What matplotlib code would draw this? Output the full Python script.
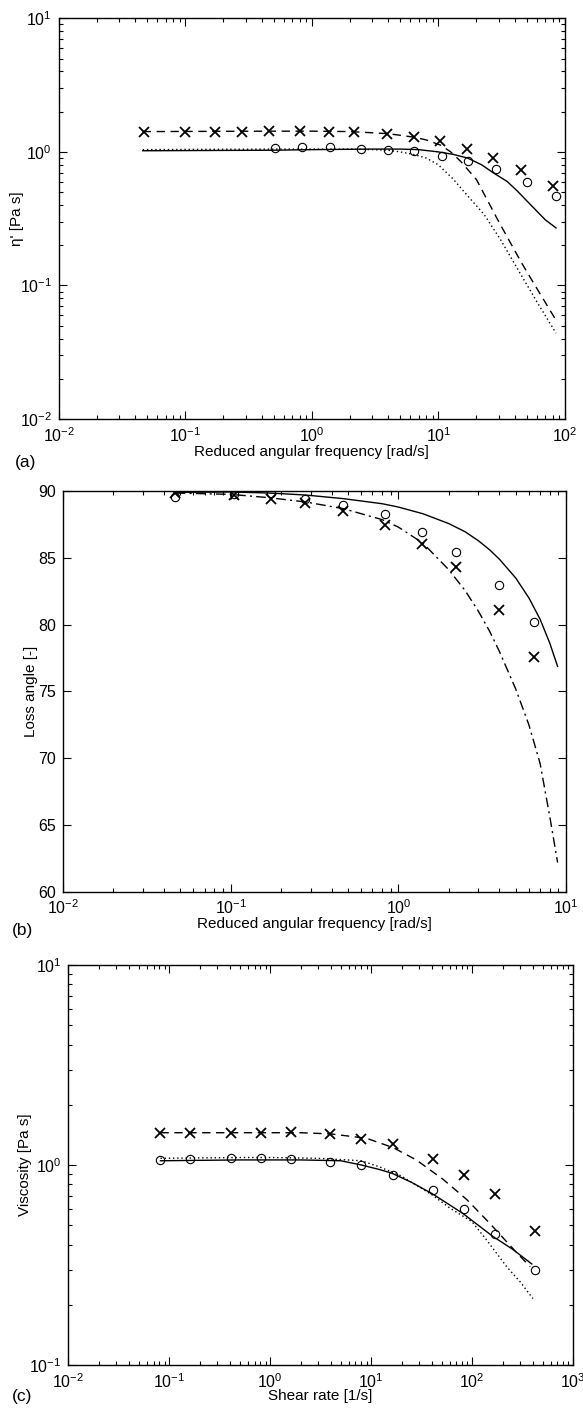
import matplotlib
matplotlib.use("Agg")
import matplotlib.pyplot as plt
from matplotlib.ticker import LogLocator, NullFormatter, MultipleLocator

plt.rcParams["font.family"] = ["Liberation Sans", "DejaVu Sans"]
plt.rcParams["mathtext.fontset"] = "custom"
plt.rcParams["mathtext.rm"] = "Liberation Sans"

# (a) dynamic viscosity eta' vs reduced angular frequency
a_cross_w = [0.047, 0.1, 0.17, 0.28, 0.46, 0.8, 1.37, 2.16, 3.94, 6.4, 10.3, 16.7, 26.8, 44.7, 80.9]
a_cross_eta = [1.40, 1.42, 1.42, 1.42, 1.43, 1.43, 1.42, 1.42, 1.37, 1.29, 1.20, 1.05, 0.90, 0.73, 0.56]
a_circ_w = [0.51, 0.84, 1.38, 2.45, 4.0, 6.4, 10.6, 17.0, 28.5, 49.8, 85.0]
a_circ_eta = [1.07, 1.08, 1.08, 1.05, 1.04, 1.02, 0.94, 0.86, 0.74, 0.60, 0.47]
a_solid_w = [0.046, 0.5, 1, 3, 5, 7, 10, 13, 17, 22, 27, 35, 42, 50, 60, 70, 85]
a_solid_eta = [1.02, 1.03, 1.04, 1.05, 1.05, 1.04, 1.0, 0.96, 0.90, 0.80, 0.70, 0.60, 0.51, 0.43, 0.36, 0.31, 0.27]
a_dash_w = [0.046, 0.5, 1, 2, 4, 6.4, 8, 10.5, 12.5, 15, 20, 30, 45, 60, 85]
a_dash_eta = [1.42, 1.43, 1.43, 1.42, 1.37, 1.29, 1.23, 1.12, 1.0, 0.85, 0.62, 0.30, 0.15, 0.095, 0.055]
a_dot_w = [0.046, 0.5, 1, 2, 3, 4, 5, 6.3, 8, 10, 13, 17, 23, 31, 45, 63, 85]
a_dot_eta = [1.04, 1.05, 1.05, 1.05, 1.04, 1.03, 1.0, 0.96, 0.90, 0.80, 0.63, 0.47, 0.34, 0.22, 0.12, 0.07, 0.044]

# (b) loss angle vs reduced angular frequency
b_w = [0.0466, 0.104, 0.173, 0.277, 0.466, 0.828, 1.39, 2.21, 3.96, 6.42]
b_circ_delta = [89.55, 89.75, 89.85, 89.43, 88.98, 88.26, 86.94, 85.45, 82.96, 80.22]
b_cross_delta = [89.85, 89.68, 89.43, 89.10, 88.50, 87.44, 86.07, 84.33, 81.09, 77.54]
b_line_w = [0.047, 0.1, 0.17, 0.28, 0.47, 0.8, 1.0, 1.4, 2.0, 2.5, 3.0, 3.5, 4.0, 5.0, 6.0, 7.0, 8.0, 8.9]
b_solid_delta = [89.90, 89.93, 89.85, 89.70, 89.43, 89.05, 88.80, 88.30, 87.56, 86.95, 86.28, 85.60, 84.90, 83.50, 82.00, 80.40, 78.60, 76.87]
b_dashdot_delta = [89.85, 89.75, 89.50, 89.18, 88.68, 87.86, 87.30, 86.10, 84.10, 82.55, 81.00, 79.50, 78.00, 75.20, 72.50, 69.60, 65.60, 62.19]

# (c) steady shear viscosity vs shear rate
c_rate = [0.082, 0.162, 0.413, 0.817, 1.61, 3.95, 8.0, 16.4, 41.0, 83.2, 167, 416]
c_cross_visc = [1.45, 1.45, 1.45, 1.45, 1.47, 1.43, 1.35, 1.27, 1.07, 0.895, 0.72, 0.47]
c_circ_visc = [1.055, 1.07, 1.08, 1.09, 1.07, 1.04, 1.0, 0.895, 0.75, 0.60, 0.45, 0.30]
c_solid_rate = [0.082, 0.5, 2, 5, 8, 12, 16, 25, 40, 80, 160, 250, 390]
c_solid_visc = [1.05, 1.06, 1.06, 1.05, 1.0, 0.95, 0.91, 0.82, 0.72, 0.575, 0.44, 0.38, 0.32]
c_dash_rate = [0.082, 0.5, 2, 4, 9, 16.6, 28, 52, 89, 150, 256, 375]
c_dash_visc = [1.45, 1.45, 1.45, 1.43, 1.36, 1.22, 1.06, 0.845, 0.67, 0.51, 0.38, 0.31]
c_dot_rate = [0.082, 0.5, 1, 3, 8, 12, 20, 40, 60, 100, 140, 220, 300, 400]
c_dot_visc = [1.08, 1.09, 1.09, 1.08, 1.05, 0.98, 0.88, 0.71, 0.61, 0.52, 0.42, 0.31, 0.26, 0.215]

DASH = (0, (6, 4))
DOT = (0, (1, 2))
DASHDOT = (0, (7, 3, 1.5, 3))
LW = 1.0
TICK_FS = 11.5
LABEL_FS = 11


def style_axis(ax, logy=True):
    ax.tick_params(which="both", direction="in", top=True, right=True,
                   labelsize=TICK_FS, width=0.8, pad=5)
    ax.tick_params(which="major", length=6)
    ax.tick_params(which="minor", length=3)
    ax.xaxis.set_minor_locator(LogLocator(base=10, subs=range(2, 10)))
    ax.xaxis.set_minor_formatter(NullFormatter())
    if logy:
        ax.yaxis.set_minor_locator(LogLocator(base=10, subs=range(2, 10)))
        ax.yaxis.set_minor_formatter(NullFormatter())
    for s in ax.spines.values():
        s.set_linewidth(1.0)


def markers(ax, x, y, kind):
    if kind == "x":
        ax.plot(x, y, "x", color="black", markersize=6.5, markeredgewidth=1.3)
    else:
        ax.plot(x, y, "o", color="black", markerfacecolor="none",
                markersize=6, markeredgewidth=0.8)


fig = plt.figure(figsize=(5.83, 14.11), dpi=100)

# panel (a)
ax_a = fig.add_axes([0.101, 0.703, 0.868, 0.284])
ax_a.set_xscale("log")
ax_a.set_yscale("log")
ax_a.plot(a_solid_w, a_solid_eta, "-", color="black", lw=LW)
ax_a.plot(a_dash_w, a_dash_eta, linestyle=DASH, color="black", lw=LW)
ax_a.plot(a_dot_w, a_dot_eta, linestyle=DOT, color="black", lw=LW)
markers(ax_a, a_cross_w, a_cross_eta, "x")
markers(ax_a, a_circ_w, a_circ_eta, "o")
ax_a.set_xlim(1e-2, 1e2)
ax_a.set_ylim(1e-2, 1e1)
style_axis(ax_a)
ax_a.set_xlabel("Reduced angular frequency [rad/s]", fontsize=LABEL_FS, labelpad=0)
ax_a.set_ylabel("η' [Pa s]", fontsize=LABEL_FS, labelpad=-3)

# panel (b)
ax_b = fig.add_axes([0.108, 0.368, 0.863, 0.284])
ax_b.set_xscale("log")
ax_b.plot(b_line_w, b_solid_delta, "-", color="black", lw=LW)
ax_b.plot(b_line_w, b_dashdot_delta, linestyle=DASHDOT, color="black", lw=LW)
markers(ax_b, b_w, b_cross_delta, "x")
markers(ax_b, b_w, b_circ_delta, "o")
ax_b.set_xlim(1e-2, 1e1)
ax_b.set_ylim(60, 90)
ax_b.yaxis.set_major_locator(MultipleLocator(5))
style_axis(ax_b, logy=False)
ax_b.set_xlabel("Reduced angular frequency [rad/s]", fontsize=LABEL_FS, labelpad=0)
ax_b.set_ylabel("Loss angle [-]", fontsize=LABEL_FS, labelpad=0)

# panel (c)
ax_c = fig.add_axes([0.117, 0.0326, 0.866, 0.2835])
ax_c.set_xscale("log")
ax_c.set_yscale("log")
ax_c.plot(c_solid_rate, c_solid_visc, "-", color="black", lw=LW)
ax_c.plot(c_dash_rate, c_dash_visc, linestyle=DASH, color="black", lw=LW)
ax_c.plot(c_dot_rate, c_dot_visc, linestyle=DOT, color="black", lw=LW)
markers(ax_c, c_rate, c_cross_visc, "x")
markers(ax_c, c_rate, c_circ_visc, "o")
ax_c.set_xlim(1e-2, 1e3)
ax_c.set_ylim(1e-1, 1e1)
style_axis(ax_c)
ax_c.set_xlabel("Shear rate [1/s]", fontsize=LABEL_FS, labelpad=-1)
ax_c.set_ylabel("Viscosity [Pa s]", fontsize=LABEL_FS, labelpad=-2)

fig.text(0.025, 1 - 463 / 1411, "(a)", fontsize=12.5, va="center")
fig.text(0.02, 1 - 930 / 1411, "(b)", fontsize=12.5, va="center")
fig.text(0.02, 1 - 1397 / 1411, "(c)", fontsize=12.5, va="center")

fig.savefig("out.png", dpi=100)
